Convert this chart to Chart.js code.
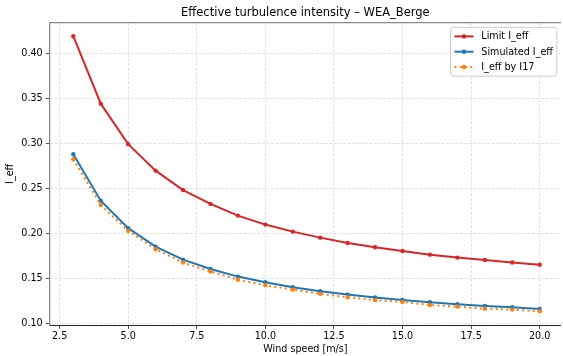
<!DOCTYPE html>
<html>
<head>
<meta charset="utf-8">
<script src="https://cdn.jsdelivr.net/npm/chart.js@4.4.1/dist/chart.umd.min.js"></script>
<style>
  html, body { margin: 0; padding: 0; background: #ffffff; }
  #wrap { width: 563px; height: 356px; position: relative; }
  canvas { display: block; }
</style>
</head>
<body>
<div id="wrap"><canvas id="c" width="563" height="356"></canvas></div>
<script>
// ---- data ----
const windSpeeds = [3, 4, 5, 6, 7, 8, 9, 10, 11, 12, 13, 14, 15, 16, 17, 18, 19, 20];
const limitIeff = [0.419, 0.344, 0.299, 0.2696, 0.248, 0.2326, 0.2196, 0.2096, 0.2018, 0.1951, 0.1892, 0.1844, 0.1803, 0.1762, 0.1729, 0.1703, 0.1674, 0.1651];
const simulatedIeff = [0.2878, 0.2362, 0.2056, 0.1851, 0.1707, 0.1603, 0.1518, 0.1456, 0.1400, 0.1356, 0.1318, 0.1285, 0.1259, 0.1233, 0.1211, 0.1192, 0.1178, 0.1159];
const i17Ieff = [0.2822, 0.2315, 0.2026, 0.1822, 0.1674, 0.1574, 0.1484, 0.1422, 0.1373, 0.1326, 0.1289, 0.1256, 0.1237, 0.1203, 0.1184, 0.1162, 0.1151, 0.1133];
const seriesLabels = ['Limit I_eff', 'Simulated I_eff', 'I_eff by I17'];
const xTicks = [2.5, 5.0, 7.5, 10.0, 12.5, 15.0, 17.5, 20.0];
const yTicks = [0.10, 0.15, 0.20, 0.25, 0.30, 0.35, 0.40];
const chartTitle = 'Effective turbulence intensity \u2013 WEA_Berge';
const xTitle = 'Wind speed [m/s]';
const yTitle = 'I_eff';

const FONT = '"DejaVu Sans", "Liberation Sans", sans-serif';
const toPts = (vals) => vals.map((v, i) => ({ x: windSpeeds[i], y: v }));

// top spine
const topSpine = {
  id: 'topSpine',
  afterDraw(chart) {
    const { ctx, chartArea: a } = chart;
    ctx.save();
    ctx.strokeStyle = '#888888';
    ctx.lineWidth = 1.25;
    ctx.beginPath();
    ctx.moveTo(a.left - 0.6, a.top);
    ctx.lineTo(a.right, a.top);
    ctx.stroke();
    ctx.restore();
  }
};

// matplotlib-style framed legend, drawn from the datasets
const boxLegend = {
  id: 'boxLegend',
  afterDraw(chart) {
    const { ctx, chartArea: a } = chart;
    const fs = 9.6;
    const ds = chart.data.datasets;
    ctx.save();
    ctx.font = fs + 'px ' + FONT;
    const textW = Math.max(...ds.map(d => ctx.measureText(d.label).width));
    const pad = 3.84, handle = 19.2, gap = 7.7, rowH = 10.5, spacing = 4.8;
    const w = pad * 2 + handle + gap + textW;
    const h = pad * 2 + rowH * ds.length + spacing * (ds.length - 1);
    const right = a.right - 4;
    const left = right - w;
    const top = a.top + 4.6;
    ctx.beginPath();
    if (ctx.roundRect) ctx.roundRect(left, top, w, h, 3); else ctx.rect(left, top, w, h);
    ctx.fillStyle = 'rgba(255,255,255,0.85)';
    ctx.fill();
    ctx.strokeStyle = '#cccccc';
    ctx.lineWidth = 1;
    ctx.stroke();
    ds.forEach((d, i) => {
      const cy = top + pad + rowH / 2 + i * (rowH + spacing);
      const x0 = left + pad, x1 = x0 + handle;
      ctx.save();
      ctx.strokeStyle = d.borderColor;
      ctx.lineWidth = d.borderWidth;
      ctx.setLineDash(d.borderDash || []);
      ctx.beginPath();
      ctx.moveTo(x0, cy);
      ctx.lineTo(x1, cy);
      ctx.stroke();
      ctx.setLineDash([]);
      ctx.fillStyle = d.pointBackgroundColor;
      ctx.beginPath();
      ctx.arc((x0 + x1) / 2, cy, d.pointRadius, 0, Math.PI * 2);
      ctx.fill();
      ctx.restore();
      ctx.fillStyle = '#000000';
      ctx.textBaseline = 'middle';
      ctx.textAlign = 'left';
      ctx.fillText(d.label, x1 + gap, cy + 0.5);
    });
    ctx.restore();
  }
};

const mkDs = (label, vals, color, dash, order) => ({
  label,
  data: toPts(vals),
  borderColor: color,
  backgroundColor: color,
  pointBackgroundColor: color,
  pointBorderColor: color,
  borderWidth: 2,
  borderDash: dash,
  borderCapStyle: 'butt',
  pointRadius: 2.2,
  pointBorderWidth: 0,
  pointHoverRadius: 2.2,
  tension: 0,
  fill: false,
  order
});

const gridStyle = {
  color: 'rgba(0,0,0,0.15)',
  lineWidth: 0.8,
  tickColor: '#222222',
  tickLength: 4,
  tickWidth: 0.8,
  tickBorderDash: [],
  drawTicks: true
};

new Chart(document.getElementById('c'), {
  type: 'line',
  data: {
    datasets: [
      mkDs(seriesLabels[0], limitIeff, '#d62728', [], 3),
      mkDs(seriesLabels[1], simulatedIeff, '#1f77b4', [], 2),
      mkDs(seriesLabels[2], i17Ieff, '#ff7f0e', [2, 3.3], 1)
    ]
  },
  options: {
    responsive: false,
    animation: false,
    devicePixelRatio: 1,
    layout: { padding: 0 },
    plugins: {
      legend: { display: false },
      tooltip: { enabled: false },
      title: {
        display: true,
        text: chartTitle,
        fullSize: false,
        color: '#000000',
        font: { family: FONT, size: 11.5, weight: 'normal' },
        padding: { top: 6.4, bottom: 2.5 }
      }
    },
    scales: {
      x: {
        type: 'linear',
        min: 2.15,
        max: 20.77,
        afterBuildTicks: (s) => { s.ticks = xTicks.map(v => ({ value: v })); },
        afterFit: (s) => { s.height = 31; },
        ticks: {
          color: '#000000',
          font: { family: FONT, size: 9.6 },
          padding: 1.5,
          maxRotation: 0,
          autoSkip: false,
          callback: (v) => Number(v).toFixed(1)
        },
        grid: gridStyle,
        border: { display: true, color: '#222222', width: 1, dash: [3, 1.5] },
        title: {
          display: true,
          text: xTitle,
          color: '#000000',
          font: { family: FONT, size: 9.6 },
          padding: { top: 0, bottom: 0.8 }
        }
      },
      y: {
        type: 'linear',
        min: 0.098,
        max: 0.434,
        afterBuildTicks: (s) => { s.ticks = yTicks.map(v => ({ value: v })); },
        afterFit: (s) => { s.width = 50; },
        ticks: {
          color: '#000000',
          font: { family: FONT, size: 9.6 },
          padding: 3.3,
          autoSkip: false,
          callback: (v) => Number(v).toFixed(2)
        },
        grid: gridStyle,
        border: { display: true, color: '#888888', width: 1.25, dash: [3, 1.5] },
        title: {
          display: true,
          text: yTitle,
          color: '#000000',
          font: { family: FONT, size: 9.6 },
          padding: { top: 5, bottom: 0 }
        }
      }
    }
  },
  plugins: [topSpine, boxLegend]
});
</script>
</body>
</html>
